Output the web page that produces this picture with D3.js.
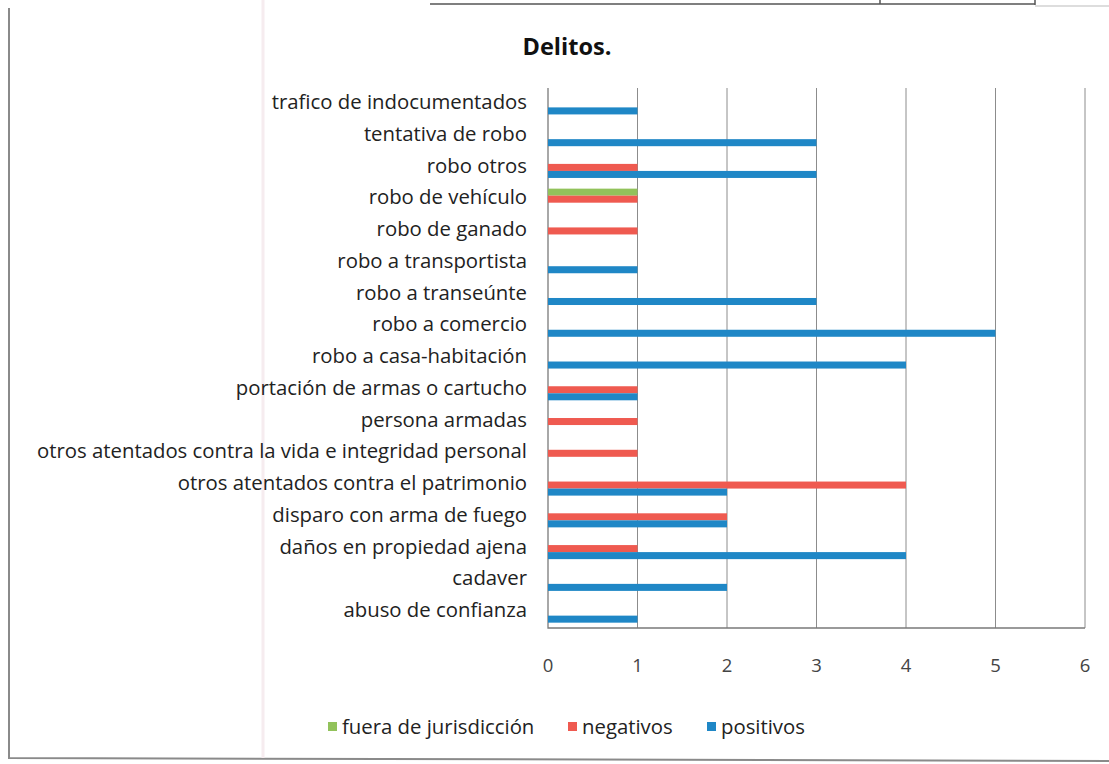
<!DOCTYPE html>
<html>
<head>
<meta charset="utf-8">
<script src="https://cdn.jsdelivr.net/npm/d3@7"></script>
<style>
  body { margin: 0; background: #fff; }
  text { font-family: "Open Sans", sans-serif; }
</style>
</head>
<body>
<div id="chart"></div>
<script>
// categories, top to bottom as in the chart
var categories = [
    "trafico de indocumentados",
    "tentativa de robo",
    "robo otros",
    "robo de vehículo",
    "robo de ganado",
    "robo a transportista",
    "robo a transeúnte",
    "robo a comercio",
    "robo a casa-habitación",
    "portación de armas o cartucho",
    "persona armadas",
    "otros atentados contra la vida e integridad personal",
    "otros atentados contra el patrimonio",
    "disparo con arma de fuego",
    "daños en propiedad ajena",
    "cadaver",
    "abuso de confianza"
];

var series = ["fuera de jurisdicción", "negativos", "positivos"];

var fuera     = [0, 0, 0, 1, 0, 0, 0, 0, 0, 0, 0, 0, 0, 0, 0, 0, 0];
var negativos = [0, 0, 1, 1, 1, 0, 0, 0, 0, 1, 1, 1, 4, 2, 1, 0, 0];
var positivos = [1, 3, 3, 0, 0, 1, 3, 5, 4, 1, 0, 0, 2, 2, 4, 2, 1];

var xTicks = [0, 1, 2, 3, 4, 5, 6];

var colors = {"fuera de jurisdicción": "#92c25b", "negativos": "#ef5a50", "positivos": "#1f87c6"};

var width = 1109, height = 764;
var plot = {left: 548, right: 1085, top: 88, bottom: 628};

var svg = d3.select("#chart").append("svg")
    .attr("width", width)
    .attr("height", height);

// shrink/grow a text element's font so it spans the given width
function fitWidth(sel, target) {
    sel.each(function() {
        var fs = parseFloat(this.style.fontSize);
        var w = this.getComputedTextLength();
        this.style.fontSize = (fs * target / w).toFixed(2) + "px";
    });
}

// scanned page frame
svg.append("path")
    .attr("d", "M9,8 L9,758 L1109,761")
    .attr("fill", "none").attr("stroke", "#8a8a8a").attr("stroke-width", 2);
svg.append("path")
    .attr("d", "M430,4 L1035,4 M880,0 L880,4 M1035,0 L1035,5")
    .attr("fill", "none").attr("stroke", "#555").attr("stroke-width", 1.5);
svg.append("line")
    .attr("x1", 1035).attr("x2", 1109).attr("y1", 6).attr("y2", 6)
    .attr("stroke", "#bbb").attr("stroke-width", 1);
svg.append("line")
    .attr("x1", 263).attr("x2", 263).attr("y1", 0).attr("y2", 758)
    .attr("stroke", "#f6ecef").attr("stroke-width", 3);

var x = d3.scaleLinear().domain([0, 6]).range([plot.left, plot.right]);
var y = d3.scaleBand().domain(categories).range([plot.top, plot.bottom]).padding(0);
var y1 = d3.scaleBand().domain(series).range([0, y.bandwidth()]).paddingOuter(0.76);

var title = svg.append("text")
    .attr("x", 567).attr("y", 55)
    .attr("text-anchor", "middle")
    .style("font-size", "20px").style("font-weight", "bold")
    .attr("fill", "#111")
    .text("Delitos.");
fitWidth(title, 89);

// vertical gridlines
svg.append("g")
    .selectAll("line")
    .data(xTicks.slice(1))
    .join("line")
    .attr("x1", d => x(d)).attr("x2", d => x(d))
    .attr("y1", plot.top).attr("y2", plot.bottom)
    .attr("stroke", "#8c8c8c").attr("stroke-width", 1);

// axis lines
svg.append("path")
    .attr("d", "M" + plot.left + "," + plot.top + " L" + plot.left + "," + plot.bottom + " L" + plot.right + "," + plot.bottom)
    .attr("fill", "none").attr("stroke", "#7a7a7a").attr("stroke-width", 1.3);

// x tick labels
svg.append("g")
    .selectAll("text")
    .data(xTicks)
    .join("text")
    .attr("x", d => x(d)).attr("y", 672)
    .attr("text-anchor", "middle")
    .style("font-size", "18.5px")
    .attr("fill", "#444")
    .text(d => d);

// category labels
var labels = svg.append("g")
    .selectAll("text")
    .data(categories)
    .join("text")
    .attr("x", 527)
    .attr("y", d => y(d) + y.bandwidth() / 2 - 2)
    .attr("dy", "0.35em")
    .attr("text-anchor", "end")
    .style("font-size", "18px")
    .attr("fill", "#222")
    .text(d => d);

// size all labels off the longest one (490px in the chart)
var longest = labels.filter(d => d === categories[11]).node();
var labelSize = 18 * 490 / longest.getComputedTextLength();
labels.style("font-size", labelSize.toFixed(2) + "px");

// bars
var rows = categories.map(function(c, i) {
    return {cat: c, values: [
        {key: series[0], v: fuera[i]},
        {key: series[1], v: negativos[i]},
        {key: series[2], v: positivos[i]}
    ]};
});

svg.append("g")
    .selectAll("g")
    .data(rows)
    .join("g")
    .attr("transform", d => "translate(0," + y(d.cat) + ")")
    .selectAll("rect")
    .data(d => d.values.filter(e => e.v > 0))
    .join("rect")
    .attr("x", x(0))
    .attr("y", d => y1(d.key))
    .attr("width", d => x(d.v) - x(0))
    .attr("height", y1.bandwidth())
    .attr("fill", d => colors[d.key]);

// legend
var legendX = [328, 568, 707];
var legend = svg.append("g")
    .selectAll("g")
    .data(series)
    .join("g")
    .attr("transform", (d, i) => "translate(" + legendX[i] + ",727)");
legend.append("rect")
    .attr("x", 0).attr("y", -5)
    .attr("width", 9).attr("height", 9)
    .attr("fill", d => colors[d]);
legend.append("text")
    .attr("x", 14).attr("y", 0)
    .attr("dy", "0.35em")
    .style("font-size", labelSize.toFixed(2) + "px")
    .attr("fill", "#222")
    .text(d => d);
</script>
</body>
</html>
